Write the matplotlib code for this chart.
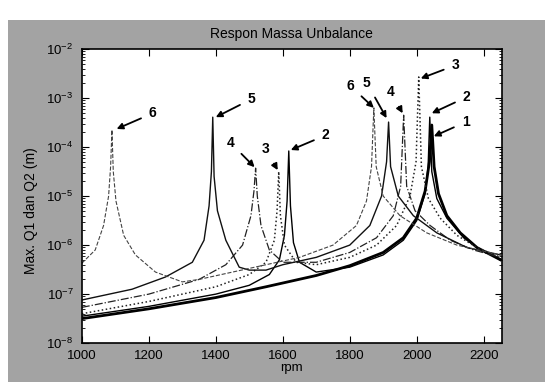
import matplotlib.pyplot as plt
import numpy as np
from matplotlib.patches import Rectangle

plt.rcParams['font.family'] = ['Liberation Sans', 'DejaVu Sans']

# curves: rpm and log10 of amplitude (m)
rpm_1 = [1000, 1200, 1400, 1550, 1700, 1800, 1900, 1960, 2000, 2025, 2038, 2045, 2052, 2065, 2090, 2130, 2180, 2250]
log_1 = [-7.50, -7.30, -7.07, -6.85, -6.62, -6.42, -6.15, -5.85, -5.45, -4.90, -4.30, -3.55, -4.40, -4.95, -5.40, -5.75, -6.05, -6.30]

rpm_2 = [1000, 1200, 1400, 1500, 1560, 1590, 1605, 1613, 1618, 1623, 1632, 1650, 1700, 1800, 1900, 1960,
         2000, 2025, 2034, 2039, 2045, 2060, 2090, 2140, 2190, 2250]
log_2 = [-7.45, -7.25, -7.00, -6.82, -6.60, -6.30, -5.80, -5.10, -4.08, -5.20, -5.95, -6.35, -6.55, -6.45, -6.20, -5.90,
         -5.50, -4.95, -4.40, -3.39, -4.50, -5.05, -5.45, -5.85, -6.10, -6.28]

rpm_3 = [1000, 1200, 1400, 1500, 1550, 1575, 1583, 1588, 1593, 1605, 1640, 1700, 1800, 1880, 1940, 1980,
         1998, 2006, 2014, 2035, 2070, 2120, 2180, 2250]
log_3 = [-7.40, -7.15, -6.85, -6.60, -6.35, -5.90, -5.30, -4.50, -5.40, -6.00, -6.35, -6.40, -6.25, -6.00, -5.60, -5.00,
         -4.30, -2.57, -4.40, -5.05, -5.45, -5.80, -6.05, -6.25]

rpm_4 = [1000, 1200, 1350, 1430, 1480, 1505, 1514, 1519, 1524, 1535, 1560, 1600, 1700, 1800, 1880, 1930,
         1952, 1961, 1970, 1995, 2040, 2100, 2170, 2250]
log_4 = [-7.27, -7.00, -6.70, -6.40, -6.00, -5.40, -4.90, -4.43, -5.00, -5.60, -6.10, -6.35, -6.35, -6.15, -5.85, -5.40,
         -4.80, -3.35, -4.80, -5.30, -5.60, -5.90, -6.10, -6.25]

rpm_5 = [1000, 1150, 1250, 1330, 1365, 1380, 1387, 1391, 1395, 1405, 1430, 1470, 1500, 1550, 1600, 1700,
         1800, 1860, 1895, 1910, 1916, 1922, 1945, 1990, 2060, 2150, 2250]
log_5 = [-7.12, -6.90, -6.65, -6.35, -5.90, -5.20, -4.50, -3.39, -4.60, -5.30, -5.90, -6.45, -6.51, -6.51, -6.40, -6.25,
         -6.00, -5.60, -5.00, -4.30, -3.49, -4.40, -5.00, -5.40, -5.75, -6.05, -6.20]

rpm_6 = [1000, 1040, 1065, 1080, 1086, 1090, 1094, 1102, 1125, 1160, 1220, 1300, 1350, 1450, 1550, 1650,
         1750, 1820, 1850, 1865, 1872, 1879, 1900, 1950, 2030, 2120, 2250]
log_6 = [-6.37, -6.10, -5.60, -5.00, -4.40, -3.65, -4.50, -5.10, -5.80, -6.20, -6.55, -6.75, -6.70, -6.55, -6.40, -6.25,
         -6.00, -5.60, -5.10, -4.40, -3.20, -4.40, -5.00, -5.40, -5.75, -6.00, -6.20]

x_ticks = [1000, 1200, 1400, 1600, 1800, 2000, 2200]

curves = [(rpm_1, log_1), (rpm_2, log_2), (rpm_3, log_3),
          (rpm_4, log_4), (rpm_5, log_5), (rpm_6, log_6)]
styles = [('-', 2.0, 'black'), ('-', 1.0, 'black'), (':', 1.1, '#222222'),
          ('-.', 0.9, '#222222'), ('-', 1.0, '#111111'), ('--', 0.8, '#444444')]

# arrows: label, (tip rpm, tip log), (text rpm, text log)
arrows = [
    ('6', (1104, -3.63), (1212, -3.31)),
    ('5', (1400, -3.39), (1507, -3.02)),
    ('4', (1516, -4.41), (1445, -3.92)),
    ('3', (1585, -4.47), (1549, -4.04)),
    ('2', (1624, -4.06), (1728, -3.76)),
    ('6', (1872, -3.20), (1803, -2.76)),
    ('5', (1910, -3.41), (1851, -2.69)),
    ('4', (1958, -3.31), (1922, -2.88)),
    ('3', (2012, -2.60), (2116, -2.33)),
    ('2', (2045, -3.31), (2149, -2.98)),
    ('1', (2051, -3.78), (2146, -3.49)),
]

fig = plt.figure(figsize=(5.49, 3.86), dpi=100)
fig.patches.append(Rectangle((0.015, 0.010), 0.978, 0.938, transform=fig.transFigure,
                             facecolor='#a3a3a3', edgecolor='none', zorder=-10))
ax = fig.add_axes([0.149, 0.111, 0.765, 0.762])

for (r, l), (ls, lw, c) in zip(curves, styles):
    ax.plot(r, 10 ** np.array(l), linestyle=ls, linewidth=lw, color=c)

for lab, tip, txt in arrows:
    ax.annotate(lab, xy=(tip[0], 10 ** tip[1]), xytext=(txt[0], 10 ** txt[1]),
                ha='center', va='center', fontsize=10, fontweight='bold',
                arrowprops=dict(arrowstyle='-|>', color='black', lw=1.3,
                                shrinkA=4, shrinkB=0, mutation_scale=9))

ax.set_yscale('log')
ax.set_xlim(1000, 2254)
ax.set_ylim(1e-8, 1e-2)
ax.set_xticks(x_ticks)
ax.set_yticks([10.0 ** k for k in range(-8, -1)])
ax.tick_params(which='both', direction='in', top=True, right=True, labelsize=9.5)
ax.tick_params(which='major', length=5)
ax.tick_params(which='minor', length=2.5)
ax.tick_params(axis='x', pad=5)
ax.tick_params(axis='y', pad=6)
for s in ax.spines.values():
    s.set_linewidth(1.2)

ax.set_title('Respon Massa Unbalance', fontsize=10, pad=8)
ax.set_xlabel('rpm', fontsize=9.5, labelpad=0)
ax.set_ylabel('Max. Q1 dan Q2 (m)', fontsize=10)
ax.yaxis.set_label_coords(-0.105, 0.45)

fig.savefig('out.png', dpi=100)
